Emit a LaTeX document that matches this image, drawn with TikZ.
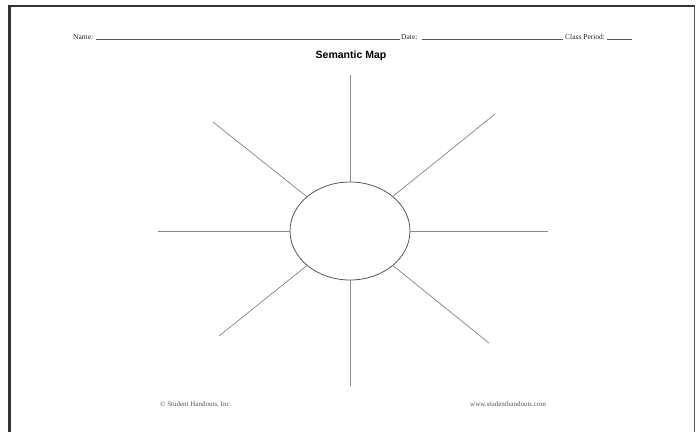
\documentclass[tikz,border=0pt]{standalone}
\usepackage{fontspec}
\setmainfont{Liberation Serif}
\setsansfont{Liberation Sans}
\usepackage{tikz}
\usetikzlibrary{shapes.geometric}
\definecolor{frame}{HTML}{333333}
\definecolor{spokecol}{HTML}{8A8A8A}
\definecolor{rimcol}{HTML}{555555}
\definecolor{fine}{HTML}{555555}

\newcommand{\blankline}[1]{{\color{black!65}\rule{#1}{0.5pt}}}

\tikzset{
  hdr/.style={anchor=base west,inner sep=0pt,text=black!85,font=\fontsize{7.5}{9}\selectfont},
  foot/.style={anchor=base west,inner sep=0pt,text=fine,font=\fontsize{7}{8}\selectfont},
  spoke/.style={draw=spokecol,line width=0.75pt}
}

\begin{document}
\begin{tikzpicture}[x=1pt,y=-1pt]
  \useasboundingbox (0,0) rectangle (696,432);
  % page frame (open at the bottom)
  \draw[frame,line width=3pt] (9.5,432) -- (9.5,5.5);
  \draw[frame,line width=2pt] (8,5.5) -- (695,5.5);
  \draw[rimcol,line width=1.5pt] (694.5,5.5) -- (694.5,432);
  % header
  \node[hdr] (name) at (73,39.5) {\makebox[23pt][l]{Name:}\blankline{304pt}};
  \node[hdr] (date) at (401,39.5) {\makebox[21pt][l]{Date:}\blankline{141pt}};
  \node[hdr] (period) at (565,39.5) {\makebox[42pt][l]{Class Period:}\blankline{25pt}};
  \node[font=\sffamily\bfseries\fontsize{10.5}{12}\selectfont,inner sep=0pt] (title) at (351,56) {Semantic Map};
  % centre and spokes
  \node[ellipse,draw=rimcol,line width=0.8pt,minimum width=120pt,minimum height=98pt,inner sep=0pt] (hub) at (350,231) {};
  \foreach \n/\xx/\yy in {top/350/75,bot/350/386,lft/158/231,rgt/548/231,ul/213/122,ur/495/114,ll/219/336,lr/489/343} {
    \coordinate (\n) at (\xx,\yy);
    \draw[spoke] (hub) -- (\n);
  }
  % footer
  \node[foot] (copy) at (160,406) {\textcopyright\ Student Handouts, Inc.};
  \node[foot] (site) at (470,406) {www.studenthandouts.com};
\end{tikzpicture}
\end{document}
